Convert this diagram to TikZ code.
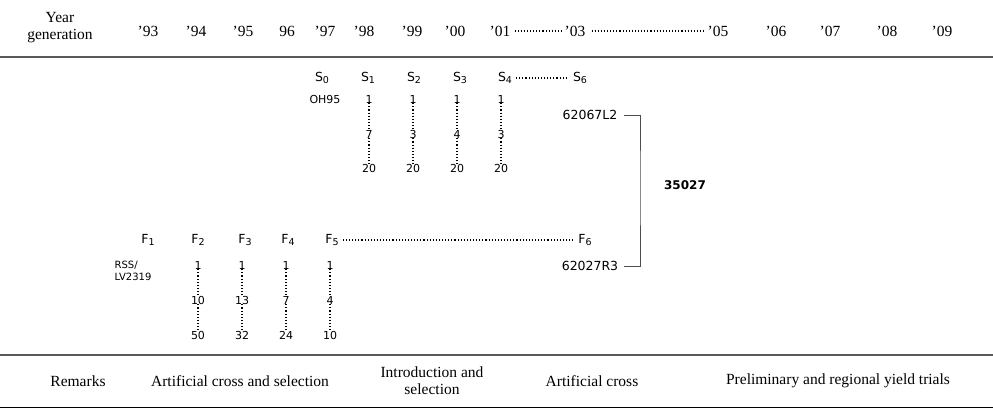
\documentclass[tikz,border=0pt]{standalone}
\usepackage{fontspec}
\setmainfont{Liberation Serif}
\newfontfamily\dv{DejaVu Sans}
\newcommand{\sbs}[1]{\raisebox{-0.35ex}{\fontsize{9.5}{10}\selectfont #1}}
\begin{document}
\begin{tikzpicture}[x=1pt,y=-1pt,
 hd/.style={font=\fontsize{15.5}{17}\selectfont,inner sep=0},
 sx/.style={font=\dv\fontsize{12.5}{14}\selectfont,inner sep=0},
 num/.style={font=\dv\fontsize{11}{12.5}\selectfont,inner sep=0},
 dl/.style={dotted,line width=1.1pt},
 rule/.style={line width=1.6pt,gray!70!black}]
\useasboundingbox (0,0) rectangle (993,409);
\draw[rule] (0,57)--(993,57);
\draw[rule] (0,355)--(993,355);
\draw[line width=0.9pt] (0,407)--(993,407);
\node[hd,align=center] (yg) at (60,28) {Year\\generation};
\foreach \t/\x/\n in {'93/148/a,'94/196/b,'95/243/c,96/287/d,'97/325/e,'98/364/f,'99/412/g,'00/455/h,'01/500/i,'03/575/j,'05/718/k,'06/776/l,'07/830/m,'08/887/n,'09/942/o}
  \node[hd] (y\n) at (\x,31) {\t};
\draw[dl] ([xshift=4]yi.east) -- ([xshift=-2]yj.west);
\draw[dl] ([xshift=6]yj.east) -- ([xshift=-4]yk.west);
% S row
\foreach \i/\x in {0/322,1/368,2/414,3/460,4/505,6/580}
  \node[sx] (s\i) at (\x,78) {S\sbs{\i}};
\draw[dl] ([xshift=4]s4.east) -- ([xshift=-4]s6.west);
\node[num] (oh) at (325,99) {OH95};
\foreach \c/\x/\m in {1/369/7,2/413/3,3/457/4,4/501/3}{
  \node[num] (sa\c) at (\x,99) {1};
  \node[num] (sb\c) at (\x,134) {\m};
  \node[num] (sc\c) at (\x,168) {20};
  \draw[dl] (sa\c.south) -- (sb\c.north);
  \draw[dl] (sb\c.south) -- (sc\c.north);
}
% F row
\foreach \i/\x in {1/148,2/198,3/245,4/288,5/332,6/585}
  \node[sx] (f\i) at (\x,240) {F\sbs{\i}};
\draw[dl] ([xshift=4]f5.east) -- ([xshift=-4]f6.west);
\node[num,align=left,font=\dv\fontsize{10}{11.5}\selectfont] (rss) at (133,271) {RSS/\\LV2319};
\foreach \c/\x/\m/\b in {1/198/10/50,2/242/13/32,3/286/7/24,4/330/4/10}{
  \node[num] (fa\c) at (\x,265) {1};
  \node[num] (fb\c) at (\x,300) {\m};
  \node[num] (fc\c) at (\x,335) {\b};
  \draw[dl] (fa\c.south) -- (fb\c.north);
  \draw[dl] (fb\c.south) -- (fc\c.north);
}
\node[sx] (l2) at (590,115) {62067L2};
\node[sx] (r3) at (590,266) {62027R3};
\node[sx,font=\dv\bfseries\fontsize{12}{14}\selectfont] (c) at (685,185) {35027};
\draw[line width=0.9pt,gray!60!black] ([xshift=6]l2.east) -| (640,185) |- ([xshift=6]r3.east);
% remarks
\node[hd] (rm) at (78,381) {Remarks};
\node[hd] (r1) at (240,381) {Artificial cross and selection};
\node[hd,align=center] (r2) at (432,381) {Introduction and\\selection};
\node[hd] (r3b) at (592,381) {Artificial cross};
\node[hd] (r4) at (838,381) {Preliminary and regional yield trials};
\end{tikzpicture}
\end{document}
